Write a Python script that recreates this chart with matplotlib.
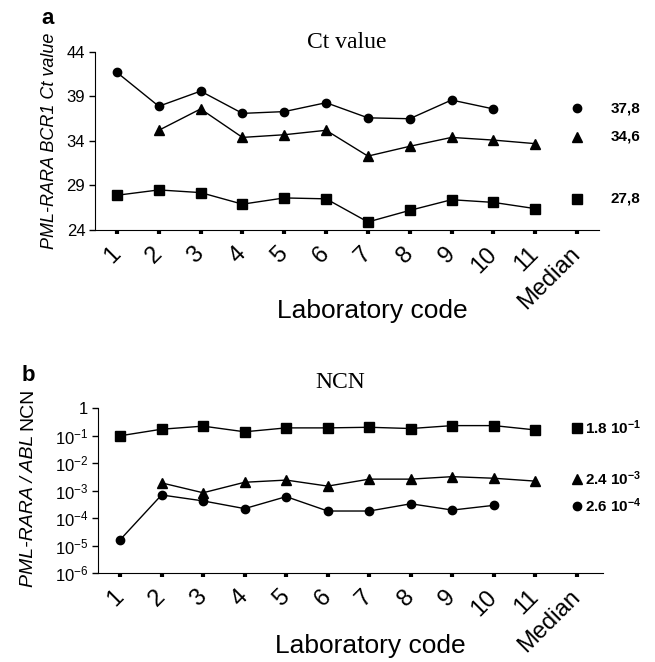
import numpy as np
import matplotlib
matplotlib.use("Agg")
import matplotlib.pyplot as plt

plt.rcParams["font.family"] = ["Liberation Sans", "DejaVu Sans"]
plt.rcParams["mathtext.fontset"] = "custom"
plt.rcParams["mathtext.rm"] = "Liberation Sans"
plt.rcParams["mathtext.it"] = "Liberation Sans:italic"
plt.rcParams["mathtext.bf"] = "Liberation Sans:bold"

labs = ["1", "2", "3", "4", "5", "6", "7", "8", "9", "10", "11", "Median"]

# panel a: Ct values per laboratory (1..11) and median
ct_circle = [41.7, 37.9, 39.6, 37.1, 37.3, 38.3, 36.6, 36.5, 38.6, 37.6]
ct_triangle = [np.nan, 35.2, 37.6, 34.4, 34.7, 35.2, 32.3, 33.4, 34.4, 34.1, 33.7]
ct_square = [27.9, 28.5, 28.2, 26.9, 27.6, 27.5, 24.9, 26.2, 27.4, 27.1, 26.4]
ct_median = {"o": 37.7, "^": 34.5, "s": 27.5}
ct_median_txt = {"o": "37,8", "^": "34,6", "s": "27,8"}

# panel b: NCN per laboratory and median
ncn_square = [0.098, 0.17, 0.22, 0.137, 0.19, 0.19, 0.20, 0.18, 0.23, 0.23, 0.16]
ncn_triangle = [np.nan, 1.9e-3, 8.3e-4, 2.0e-3, 2.4e-3, 1.45e-3, 2.6e-3, 2.6e-3,
                3.2e-3, 2.8e-3, 2.2e-3]
ncn_circle = [1.6e-5, 6.9e-4, 4.2e-4, 2.2e-4, 6.0e-4, 1.8e-4, 1.8e-4, 3.3e-4,
              1.95e-4, 2.9e-4]
ncn_median = {"s": 0.19, "^": 2.6e-3, "o": 2.7e-4}
ncn_median_txt = {"s": r"1.8 10$^{\mathbf{-1}}$", "^": r"2.4 10$^{\mathbf{-3}}$",
                  "o": r"2.6 10$^{\mathbf{-4}}$"}

msize = {"o": 6, "^": 7, "s": 6.5}

fig = plt.figure(figsize=(6.55, 6.62), dpi=100)
ax1 = fig.add_axes([0.145, 0.6526, 0.7695, 0.2689])
ax2 = fig.add_axes([0.1496, 0.1344, 0.771, 0.2492])

x = np.arange(1, 13)


def style_axis(ax):
    for s in ["top", "right"]:
        ax.spines[s].set_visible(False)
    ax.set_xticks(x)
    ax.set_xticklabels(labs, rotation=45, ha="right", va="center",
                       rotation_mode="anchor", fontsize=17)
    ax.tick_params(axis="x", length=3, width=3, pad=12)
    ax.tick_params(axis="y", length=4, width=1, labelsize=12, pad=3)
    ax.set_xlabel("Laboratory code", fontsize=19)


# ---- panel a
for vals, m in [(ct_circle, "o"), (ct_triangle, "^"), (ct_square, "s")]:
    ax1.plot(x[:len(vals)], vals, color="black", lw=1.0, marker=m,
             markersize=msize[m])
    ax1.plot(12, ct_median[m], color="black", marker=m, markersize=msize[m],
             linestyle="none")
    ax1.text(12.81, ct_median[m], ct_median_txt[m], fontsize=11,
             fontweight="bold", ha="left", va="center", clip_on=False)
ax1.set_xlim(0.474, 12.526)
ax1.set_ylim(24, 44)
ax1.set_yticks([24, 29, 34, 39, 44])
style_axis(ax1)
ax1.xaxis.set_label_coords(0.55, -0.39)
ax1.set_ylabel("PML-RARA BCR1 Ct value", fontsize=13, style="italic",
               labelpad=6)
ax1.text(0.5, 0.995, "Ct value", transform=ax1.transAxes, ha="center",
         va="bottom", fontsize=17, family="Liberation Serif")
fig.text(0.072, 0.972, "a", fontsize=16, fontweight="bold", ha="center",
         va="center")

# ---- panel b
for vals, m in [(ncn_square, "s"), (ncn_triangle, "^"), (ncn_circle, "o")]:
    ax2.plot(x[:len(vals)], vals, color="black", lw=1.0, marker=m,
             markersize=msize[m])
    ax2.plot(12, ncn_median[m], color="black", marker=m, markersize=msize[m],
             linestyle="none")
    ax2.text(12.2, ncn_median[m], ncn_median_txt[m], fontsize=11,
             fontweight="bold", ha="left", va="center", clip_on=False)
ax2.set_yscale("log")
ax2.set_xlim(0.47, 12.626)
ax2.set_ylim(1e-6, 1)
yt = [1e-6, 1e-5, 1e-4, 1e-3, 1e-2, 1e-1, 1]
ax2.set_yticks(yt)
ax2.set_yticklabels([r"10$^{-6}$", r"10$^{-5}$", r"10$^{-4}$", r"10$^{-3}$",
                     r"10$^{-2}$", r"10$^{-1}$", "1"])
ax2.minorticks_off()
style_axis(ax2)
ax2.xaxis.set_label_coords(0.54, -0.37)
ax2.text(0.48, 1.09, "NCN", transform=ax2.transAxes, ha="center",
         va="bottom", fontsize=17, family="Liberation Serif")
fig.text(0.043, 0.4335, "b", fontsize=16, fontweight="bold", ha="center",
         va="center")

# mixed-style y label for panel b: italic gene names, upright NCN
ylx = 0.043
fig.text(ylx, 0.343, "PML-RARA / ABL", fontsize=14, style="italic",
         rotation=90, ha="center", va="top")
fig.text(ylx, 0.3505, "NCN", fontsize=14, rotation=90, ha="center",
         va="bottom")

fig.savefig("out.png", dpi=100)
